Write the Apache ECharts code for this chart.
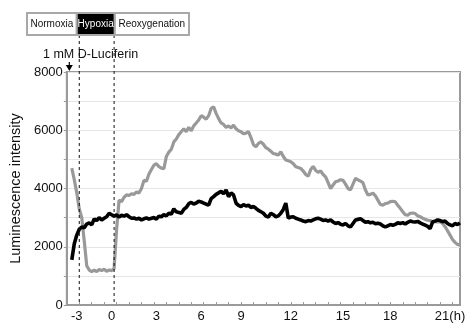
<!DOCTYPE html>
<html>
<head>
<meta charset="utf-8">
<script src="https://cdn.jsdelivr.net/npm/echarts@6/dist/echarts.min.js"></script>
<style>
html,body{margin:0;padding:0;background:#fff;}
#chart{width:475px;height:328px;}
</style>
</head>
<body>
<div id="chart"></div>
<script>
// Sample index along the time axis (nonlinear hour labels placed at specific samples)
const xTickIndex = [4, 18, 36, 54, 70, 90, 111, 130, 154];
const xTickLabels = ['-3', '0', '3', '6', '9', '12', '15', '18', '21(h)'];
const hypoxiaStartIndex = 5;
const hypoxiaEndIndex = 19;
const luciferinIndex = 1;

const greySeries = [
 null,null,4700,4300,3850,3300,3000,2200,1350,1200,
 1150,1200,1150,1220,1180,1230,1160,1200,1180,1250,
 2600,3600,3550,3700,3780,3760,3820,3800,3880,3850,
 4000,4280,4250,4500,4650,4800,4850,4750,4700,4680,
 5100,5250,5350,5600,5700,5850,5950,6050,5950,6100,
 5980,6150,6250,6350,6500,6450,6380,6500,6750,6800,
 6580,6400,6250,6200,6100,6150,6080,6180,6050,5980,
 5950,5880,5900,5950,5750,5500,5430,5550,5600,5520,
 5400,5350,5280,5200,5180,5150,5260,5100,4980,4950,
 4920,4850,4750,4720,4690,4600,4480,4420,4650,4760,
 4620,4560,4600,4480,4400,4200,4000,4120,4230,4260,
 4300,4280,4150,4000,3950,4150,4350,4300,4250,4200,
 3950,3780,3800,3840,3750,3600,3450,3430,3480,3500,
 3550,3560,3540,3420,3320,3200,3100,3080,3150,3160,
 3140,3060,3030,2980,2940,2910,2900,2870,2860,2850,
 2860,2800,2690,2550,2400,2250,2150,2080,2060
];

const blackSeries = [
 null,null,1550,2100,2400,2600,2680,2650,2780,2820,
 2750,2950,2900,3000,2920,2980,3030,3150,3100,3050,
 3090,3020,3080,3050,3100,3030,2980,2990,2950,2980,
 2920,2960,2990,2950,2980,3000,2950,3050,3030,3100,
 3060,3150,3120,3300,3200,3180,3150,3280,3350,3480,
 3520,3470,3500,3560,3540,3500,3460,3430,3650,3720,
 3800,3850,3900,3820,3950,3720,3850,3780,3500,3420,
 3380,3450,3400,3430,3350,3380,3320,3250,3200,3150,
 3050,3020,3150,3100,3030,3060,3150,3280,3500,2980,
 3020,3030,2980,2950,2920,2880,2860,2900,2880,2920,
 2960,2980,2950,2900,2920,2880,2920,2850,2800,2830,
 2770,2750,2800,2720,2680,2800,2920,2940,2960,2900,
 2840,2860,2820,2840,2790,2810,2780,2720,2680,2720,
 2760,2740,2770,2820,2800,2830,2780,2840,2880,2860,
 2850,2870,2820,2780,2740,2700,2620,2850,2880,2920,
 2900,2860,2880,2800,2750,2720,2800,2760,2820
];

const phaseNames = ['Normoxia', 'Hypoxia', 'Reoxygenation'];
const yTitle = 'Luminescence intensity';
const annotationText = '1 mM D-Luciferin';

const categories = greySeries.map((_, i) => String(i));
const labelMap = {};
xTickIndex.forEach((idx, k) => { labelMap[String(idx)] = xTickLabels[k]; });

const FONT = '"Liberation Sans", Arial, sans-serif';
const chart = echarts.init(document.getElementById('chart'), null, {renderer: 'canvas'});

const option = {
  animation: false,
  backgroundColor: '#fff',
  textStyle: {fontFamily: FONT},
  grid: {left: 65, right: 15, top: 72, bottom: 23, show: true, borderColor: '#9a9a9a', borderWidth: 2, backgroundColor: 'transparent'},
  xAxis: {
    type: 'category',
    data: categories,
    boundaryGap: false,
    axisLine: {lineStyle: {color: '#9a9a9a', width: 2}},
    axisTick: {show: true, inside: true, length: 3, interval: 4, lineStyle: {color: '#9a9a9a', width: 1}},
    axisLabel: {
      interval: (index, value) => labelMap[value] !== undefined,
      formatter: (value) => labelMap[value] || '',
      color: '#111', fontSize: 13, fontFamily: FONT, margin: 5
    },
    splitLine: {show: false}
  },
  yAxis: {
    type: 'value',
    min: 0, max: 8000, interval: 1000,
    name: yTitle,
    nameLocation: 'middle',
    nameGap: 41,
    nameTextStyle: {fontSize: 14.5, color: '#111', fontFamily: FONT},
    axisLine: {show: true, lineStyle: {color: '#9a9a9a', width: 2}},
    axisTick: {show: true, length: 3, lineStyle: {color: '#9a9a9a'}},
    axisLabel: {formatter: (v) => (v % 2000 === 0 ? String(v) : ''), color: '#111', fontSize: 13, fontFamily: FONT, margin: 4},
    splitLine: {show: true, lineStyle: {color: '#e6e6e6', width: 1}}
  },
  series: [
    {type: 'line', data: greySeries, showSymbol: false, connectNulls: false,
     lineStyle: {color: '#999999', width: 3.2}, itemStyle: {color: '#999999'}, z: 3},
    {type: 'line', data: blackSeries, showSymbol: false, connectNulls: false,
     lineStyle: {color: '#000000', width: 3.6}, itemStyle: {color: '#000'}, z: 4}
  ]
};
chart.setOption(option);

const x0 = chart.convertToPixel({xAxisIndex: 0}, String(hypoxiaStartIndex));
const x1 = chart.convertToPixel({xAxisIndex: 0}, String(hypoxiaEndIndex));
const xa = chart.convertToPixel({xAxisIndex: 0}, String(luciferinIndex));
const yBottom = chart.convertToPixel({yAxisIndex: 0}, 0);
const yTop = chart.convertToPixel({yAxisIndex: 0}, 8000);

const boxTop = 13, boxBottom = 35, boxLeft = 27, boxRight = 189;
const bx0 = x0 - 2.5, bx1 = x1 + 0.5;
const boxStyle = {stroke: '#a8a8a8', lineWidth: 2};
const graphics = [
  {type: 'rect', shape: {x: boxLeft, y: boxTop, width: bx0 - boxLeft, height: boxBottom - boxTop}, style: Object.assign({fill: '#fff'}, boxStyle), z: 10},
  {type: 'rect', shape: {x: bx1, y: boxTop, width: boxRight - bx1, height: boxBottom - boxTop}, style: Object.assign({fill: '#fff'}, boxStyle), z: 10},
  {type: 'rect', shape: {x: bx0, y: boxTop, width: bx1 - bx0, height: boxBottom - boxTop}, style: Object.assign({fill: '#000'}, boxStyle), z: 10},
  {type: 'text', style: {text: phaseNames[0], x: (boxLeft + bx0) / 2, y: (boxTop + boxBottom) / 2, align: 'center', verticalAlign: 'middle', fill: '#111', font: '10px ' + FONT}, z: 11},
  {type: 'text', style: {text: phaseNames[1], x: (bx0 + bx1) / 2, y: (boxTop + boxBottom) / 2, align: 'center', verticalAlign: 'middle', fill: '#fff', font: '10px ' + FONT}, z: 11},
  {type: 'text', style: {text: phaseNames[2], x: (bx1 + boxRight) / 2, y: (boxTop + boxBottom) / 2, align: 'center', verticalAlign: 'middle', fill: '#111', font: '10px ' + FONT}, z: 11},
  {type: 'line', shape: {x1: x0, y1: boxBottom, x2: x0, y2: yBottom}, style: {stroke: '#111', lineWidth: 1, lineDash: [3, 3]}, z: 9},
  {type: 'line', shape: {x1: x1, y1: boxBottom, x2: x1, y2: yBottom}, style: {stroke: '#111', lineWidth: 1, lineDash: [3, 3]}, z: 9},
  {type: 'text', style: {text: annotationText, x: 43, y: 55, align: 'left', verticalAlign: 'middle', fill: '#111', font: '12.5px ' + FONT}, z: 11},
  {type: 'line', shape: {x1: xa, y1: 62, x2: xa, y2: 66}, style: {stroke: '#000', lineWidth: 1.2}, z: 11},
  {type: 'polygon', shape: {points: [[xa - 3.5, 65], [xa + 3.5, 65], [xa, yTop - 1]]}, style: {fill: '#000'}, z: 11}
];
chart.setOption({graphic: graphics});
</script>
</body>
</html>
